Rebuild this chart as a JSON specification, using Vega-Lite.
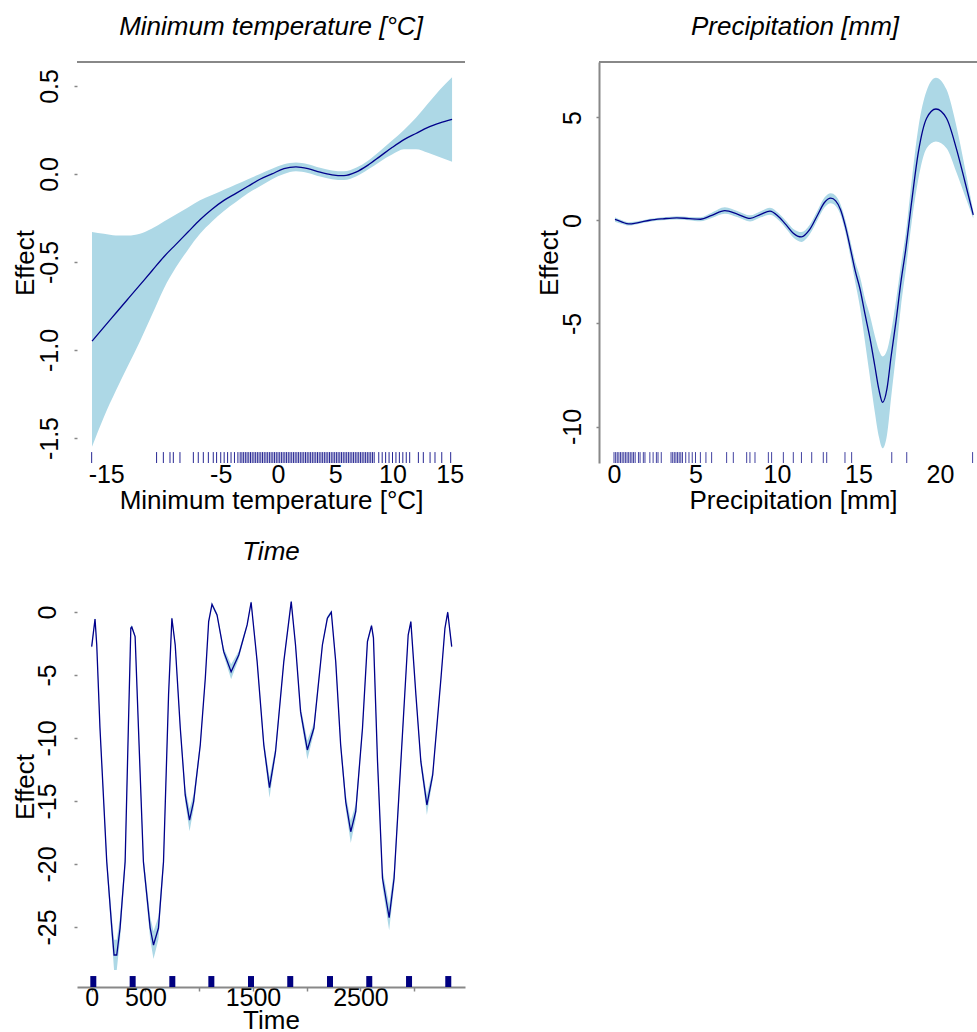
{
 "$schema": "https://vega.github.io/schema/vega-lite/v6.json",
 "background": "white",
 "padding": {"left": 12, "top": 14, "right": 0, "bottom": 0},
 "columns": 2,
 "spacing": {"row": 123, "column": 134},
 "bounds": "flush",
 "config": {
  "font": "Liberation Sans",
  "view": {"stroke": null},
  "axis": {"labelFontSize": 25, "titleFontSize": 26, "labelColor": "black", "titleColor": "black", "titleFontWeight": "normal", "grid": false, "domainColor": "#888888", "tickColor": "#888888", "labelOverlap": false, "labelFlush": false},
  "title": {"font": "Liberation Sans", "fontSize": 26, "fontStyle": "italic", "fontWeight": "normal", "color": "black", "baseline": "alphabetic", "offset": 21, "anchor": "middle"}
 },
 "datasets": {
  "temp": [
   {"x": -16.24, "fit": -0.95, "lo": -1.55, "hi": -0.33},
   {"x": -15.2, "fit": -0.87, "lo": -1.38, "hi": -0.34},
   {"x": -14.15, "fit": -0.79, "lo": -1.23, "hi": -0.35},
   {"x": -13.1, "fit": -0.71, "lo": -1.09, "hi": -0.35},
   {"x": -12.05, "fit": -0.63, "lo": -0.95, "hi": -0.34},
   {"x": -11.0, "fit": -0.55, "lo": -0.8, "hi": -0.31},
   {"x": -9.96, "fit": -0.47, "lo": -0.65, "hi": -0.27},
   {"x": -8.91, "fit": -0.4, "lo": -0.53, "hi": -0.23},
   {"x": -7.86, "fit": -0.33, "lo": -0.43, "hi": -0.19},
   {"x": -6.81, "fit": -0.26, "lo": -0.34, "hi": -0.15},
   {"x": -5.76, "fit": -0.2, "lo": -0.27, "hi": -0.12},
   {"x": -4.72, "fit": -0.15, "lo": -0.21, "hi": -0.09},
   {"x": -3.67, "fit": -0.11, "lo": -0.16, "hi": -0.06},
   {"x": -2.62, "fit": -0.07, "lo": -0.11, "hi": -0.03},
   {"x": -1.57, "fit": -0.03, "lo": -0.07, "hi": 0.0},
   {"x": -0.52, "fit": 0.0, "lo": -0.03, "hi": 0.03},
   {"x": 0.52, "fit": 0.03, "lo": 0.0, "hi": 0.055},
   {"x": 1.57, "fit": 0.04, "lo": 0.015, "hi": 0.065},
   {"x": 2.62, "fit": 0.03, "lo": 0.005, "hi": 0.055},
   {"x": 3.67, "fit": 0.01, "lo": -0.015, "hi": 0.035},
   {"x": 4.72, "fit": -0.005, "lo": -0.03, "hi": 0.02},
   {"x": 5.76, "fit": -0.01, "lo": -0.035, "hi": 0.015},
   {"x": 6.81, "fit": 0.01, "lo": -0.015, "hi": 0.035},
   {"x": 7.86, "fit": 0.05, "lo": 0.025, "hi": 0.075},
   {"x": 8.91, "fit": 0.1, "lo": 0.07, "hi": 0.13},
   {"x": 9.96, "fit": 0.15, "lo": 0.11, "hi": 0.19},
   {"x": 11.0, "fit": 0.195, "lo": 0.14, "hi": 0.25},
   {"x": 12.05, "fit": 0.23, "lo": 0.14, "hi": 0.32},
   {"x": 13.1, "fit": 0.265, "lo": 0.12, "hi": 0.4},
   {"x": 14.15, "fit": 0.29, "lo": 0.095, "hi": 0.48},
   {"x": 15.2, "fit": 0.31, "lo": 0.07, "hi": 0.55}
  ],
  "temprug": [
   {"x": -16.27}, {"x": -10.6}, {"x": -10.01}, {"x": -9.43}, {"x": -9.14}, {"x": -8.56}, {"x": -7.39}, {"x": -6.96}, {"x": -6.52}, {"x": -6.08}, {"x": -5.65}, {"x": -5.36},
   {"x": -5.0}, {"x": -4.7}, {"x": -4.4}, {"x": -4.1}, {"x": -3.8}, {"x": -3.5},
   {"x": -3.3}, {"x": -3.15}, {"x": -3.0}, {"x": -2.85}, {"x": -2.7}, {"x": -2.55}, {"x": -2.4}, {"x": -2.25}, {"x": -2.1}, {"x": -1.95}, {"x": -1.8}, {"x": -1.65}, {"x": -1.5}, {"x": -1.35}, {"x": -1.2}, {"x": -1.05}, {"x": -0.9}, {"x": -0.75}, {"x": -0.6}, {"x": -0.45}, {"x": -0.3}, {"x": -0.15}, {"x": 0.0}, {"x": 0.15}, {"x": 0.3}, {"x": 0.45}, {"x": 0.6}, {"x": 0.75}, {"x": 0.9}, {"x": 1.05}, {"x": 1.2}, {"x": 1.35}, {"x": 1.5}, {"x": 1.65}, {"x": 1.8}, {"x": 1.95}, {"x": 2.1}, {"x": 2.25}, {"x": 2.4}, {"x": 2.55}, {"x": 2.7}, {"x": 2.85}, {"x": 3.0}, {"x": 3.15}, {"x": 3.3}, {"x": 3.45}, {"x": 3.6}, {"x": 3.75}, {"x": 3.9}, {"x": 4.05}, {"x": 4.2}, {"x": 4.35}, {"x": 4.5}, {"x": 4.65}, {"x": 4.8}, {"x": 4.95}, {"x": 5.1}, {"x": 5.25}, {"x": 5.4}, {"x": 5.55}, {"x": 5.7}, {"x": 5.85}, {"x": 6.0}, {"x": 6.15}, {"x": 6.3}, {"x": 6.45}, {"x": 6.6}, {"x": 6.75}, {"x": 6.9}, {"x": 7.05}, {"x": 7.2}, {"x": 7.35}, {"x": 7.5}, {"x": 7.65}, {"x": 7.8}, {"x": 7.95}, {"x": 8.1}, {"x": 8.25}, {"x": 8.4},
   {"x": 8.8}, {"x": 9.1}, {"x": 9.4}, {"x": 9.7}, {"x": 10.0}, {"x": 10.3}, {"x": 10.6}, {"x": 10.9}, {"x": 11.2}, {"x": 11.5},
   {"x": 12.26}, {"x": 12.69}, {"x": 13.28}, {"x": 13.71}, {"x": 14.3}, {"x": 15.08}
  ],
  "prec": [
   {"x": 0.06, "fit": 0.05, "lo": -0.06, "hi": 0.16},
   {"x": 0.5, "fit": -0.08, "lo": -0.17, "hi": 0.01},
   {"x": 0.9, "fit": -0.17, "lo": -0.25, "hi": -0.09},
   {"x": 1.5, "fit": -0.1, "lo": -0.17, "hi": -0.03},
   {"x": 2.2, "fit": 0.01, "lo": -0.06, "hi": 0.08},
   {"x": 3.0, "fit": 0.08, "lo": 0.01, "hi": 0.15},
   {"x": 3.85, "fit": 0.13, "lo": 0.05, "hi": 0.21},
   {"x": 4.6, "fit": 0.09, "lo": 0.01, "hi": 0.17},
   {"x": 5.3, "fit": 0.06, "lo": -0.04, "hi": 0.16},
   {"x": 6.0, "fit": 0.25, "lo": 0.12, "hi": 0.38},
   {"x": 6.8, "fit": 0.48, "lo": 0.32, "hi": 0.64},
   {"x": 7.6, "fit": 0.3, "lo": 0.15, "hi": 0.45},
   {"x": 8.35, "fit": 0.1, "lo": -0.05, "hi": 0.25},
   {"x": 9.0, "fit": 0.3, "lo": 0.15, "hi": 0.45},
   {"x": 9.57, "fit": 0.45, "lo": 0.28, "hi": 0.62},
   {"x": 10.1, "fit": 0.18, "lo": 0.01, "hi": 0.35},
   {"x": 10.6, "fit": -0.25, "lo": -0.44, "hi": -0.06},
   {"x": 11.0, "fit": -0.62, "lo": -0.83, "hi": -0.41},
   {"x": 11.5, "fit": -0.8, "lo": -1.04, "hi": -0.56},
   {"x": 12.0, "fit": -0.45, "lo": -0.68, "hi": -0.22},
   {"x": 12.5, "fit": 0.28, "lo": 0.05, "hi": 0.51},
   {"x": 12.9, "fit": 0.86, "lo": 0.62, "hi": 1.1},
   {"x": 13.3, "fit": 1.08, "lo": 0.84, "hi": 1.32},
   {"x": 13.6, "fit": 0.95, "lo": 0.7, "hi": 1.2},
   {"x": 13.9, "fit": 0.52, "lo": 0.26, "hi": 0.78},
   {"x": 14.2, "fit": -0.3, "lo": -0.6, "hi": 0.0},
   {"x": 14.5, "fit": -1.35, "lo": -1.75, "hi": -0.98},
   {"x": 14.8, "fit": -2.45, "lo": -3.0, "hi": -2.0},
   {"x": 15.1, "fit": -3.35, "lo": -4.25, "hi": -2.75},
   {"x": 15.4, "fit": -4.55, "lo": -5.9, "hi": -3.8},
   {"x": 15.7, "fit": -5.7, "lo": -7.6, "hi": -4.6},
   {"x": 16.0, "fit": -7.05, "lo": -9.3, "hi": -5.6},
   {"x": 16.25, "fit": -8.2, "lo": -10.5, "hi": -6.3},
   {"x": 16.48, "fit": -8.83, "lo": -11.06, "hi": -6.6},
   {"x": 16.75, "fit": -8.15, "lo": -10.4, "hi": -6.3},
   {"x": 17.0, "fit": -6.6, "lo": -8.6, "hi": -5.4},
   {"x": 17.3, "fit": -4.9, "lo": -6.5, "hi": -3.9},
   {"x": 17.6, "fit": -3.0, "lo": -4.2, "hi": -2.2},
   {"x": 17.9, "fit": -1.4, "lo": -2.4, "hi": -0.6},
   {"x": 18.26, "fit": 0.9, "lo": -0.1, "hi": 1.9},
   {"x": 18.67, "fit": 3.3, "lo": 2.0, "hi": 4.5},
   {"x": 19.18, "fit": 4.96, "lo": 3.5, "hi": 6.3},
   {"x": 19.75, "fit": 5.41, "lo": 3.83, "hi": 6.93},
   {"x": 20.4, "fit": 4.96, "lo": 3.5, "hi": 6.35},
   {"x": 21.0, "fit": 3.5, "lo": 2.35, "hi": 4.6},
   {"x": 21.53, "fit": 1.88, "lo": 1.2, "hi": 2.55},
   {"x": 22.04, "fit": 0.27, "lo": 0.1, "hi": 0.45}
  ],
  "precrug": [
   {"x": 0.0}, {"x": 0.1}, {"x": 0.2}, {"x": 0.3}, {"x": 0.4}, {"x": 0.5}, {"x": 0.6}, {"x": 0.7}, {"x": 0.8}, {"x": 0.9}, {"x": 1.0}, {"x": 1.1}, {"x": 1.2}, {"x": 1.3}, {"x": 1.5}, {"x": 1.6}, {"x": 1.8}, {"x": 1.9}, {"x": 2.2}, {"x": 2.4}, {"x": 2.6}, {"x": 2.7}, {"x": 2.9},
   {"x": 3.5}, {"x": 3.6}, {"x": 3.7}, {"x": 3.8}, {"x": 3.9}, {"x": 4.0}, {"x": 4.1}, {"x": 4.2}, {"x": 4.4}, {"x": 4.6}, {"x": 4.8}, {"x": 5.0}, {"x": 5.3},
   {"x": 5.64}, {"x": 5.99}, {"x": 6.91}, {"x": 7.32}, {"x": 8.14}, {"x": 8.34}, {"x": 8.65}, {"x": 9.47}, {"x": 9.67}, {"x": 10.39}, {"x": 11.0}, {"x": 11.5}, {"x": 12.13}, {"x": 12.84}, {"x": 13.05}, {"x": 14.17}, {"x": 14.58}, {"x": 17.04}, {"x": 17.96}, {"x": 22.0}
  ],
  "time": [
   {"t": 0, "fit": -2.75, "lo": -2.95, "hi": -2.55},
   {"t": 31, "fit": -0.56, "lo": -0.71, "hi": -0.41},
   {"t": 47, "fit": -2.62, "lo": -2.82, "hi": -2.42},
   {"t": 77, "fit": -9.21, "lo": -9.51, "hi": -8.91},
   {"t": 140, "fit": -19.82, "lo": -20.32, "hi": -19.32},
   {"t": 187, "fit": -25.08, "lo": -25.98, "hi": -24.18},
   {"t": 208, "fit": -27.22, "lo": -28.42, "hi": -26.02},
   {"t": 233, "fit": -27.22, "lo": -28.42, "hi": -26.02},
   {"t": 264, "fit": -25.08, "lo": -25.98, "hi": -24.18},
   {"t": 311, "fit": -19.82, "lo": -20.32, "hi": -19.32},
   {"t": 341, "fit": -9.21, "lo": -9.51, "hi": -8.91},
   {"t": 364, "fit": -1.27, "lo": -1.42, "hi": -1.12},
   {"t": 373, "fit": -1.19, "lo": -1.34, "hi": -1.04},
   {"t": 404, "fit": -1.96, "lo": -2.11, "hi": -1.81},
   {"t": 435, "fit": -9.21, "lo": -9.51, "hi": -8.91},
   {"t": 481, "fit": -19.82, "lo": -20.32, "hi": -19.32},
   {"t": 544, "fit": -25.08, "lo": -25.98, "hi": -24.18},
   {"t": 575, "fit": -26.43, "lo": -27.53, "hi": -25.33},
   {"t": 621, "fit": -25.08, "lo": -25.98, "hi": -24.18},
   {"t": 668, "fit": -19.82, "lo": -20.32, "hi": -19.32},
   {"t": 715, "fit": -6.59, "lo": -6.79, "hi": -6.39},
   {"t": 746, "fit": -0.5, "lo": -0.65, "hi": -0.35},
   {"t": 777, "fit": -2.62, "lo": -2.82, "hi": -2.42},
   {"t": 824, "fit": -9.21, "lo": -9.51, "hi": -8.91},
   {"t": 870, "fit": -14.52, "lo": -15.12, "hi": -13.92},
   {"t": 910, "fit": -16.51, "lo": -17.41, "hi": -15.61},
   {"t": 948, "fit": -15.06, "lo": -15.66, "hi": -14.46},
   {"t": 1010, "fit": -10.56, "lo": -10.86, "hi": -10.26},
   {"t": 1057, "fit": -5.24, "lo": -5.44, "hi": -5.04},
   {"t": 1088, "fit": -0.77, "lo": -0.92, "hi": -0.62},
   {"t": 1119, "fit": 0.61, "lo": 0.46, "hi": 0.76},
   {"t": 1166, "fit": -0.24, "lo": -0.39, "hi": -0.09},
   {"t": 1228, "fit": -3.15, "lo": -3.45, "hi": -2.85},
   {"t": 1297, "fit": -4.74, "lo": -5.34, "hi": -4.14},
   {"t": 1368, "fit": -3.41, "lo": -3.71, "hi": -3.11},
   {"t": 1446, "fit": -1.03, "lo": -1.18, "hi": -0.88},
   {"t": 1483, "fit": 0.77, "lo": 0.62, "hi": 0.92},
   {"t": 1539, "fit": -3.94, "lo": -4.14, "hi": -3.74},
   {"t": 1601, "fit": -10.56, "lo": -10.96, "hi": -10.16},
   {"t": 1654, "fit": -13.94, "lo": -14.74, "hi": -13.14},
   {"t": 1710, "fit": -11.09, "lo": -11.49, "hi": -10.69},
   {"t": 1787, "fit": -3.94, "lo": -4.14, "hi": -3.74},
   {"t": 1856, "fit": 0.82, "lo": 0.67, "hi": 0.97},
   {"t": 1896, "fit": -2.62, "lo": -2.82, "hi": -2.42},
   {"t": 1943, "fit": -7.91, "lo": -8.31, "hi": -7.51},
   {"t": 2006, "fit": -10.95, "lo": -11.7, "hi": -10.2},
   {"t": 2067, "fit": -9.21, "lo": -9.61, "hi": -8.81},
   {"t": 2146, "fit": -2.62, "lo": -2.82, "hi": -2.42},
   {"t": 2192, "fit": -0.5, "lo": -0.65, "hi": -0.35},
   {"t": 2229, "fit": -0.02, "lo": -0.17, "hi": 0.13},
   {"t": 2270, "fit": -3.94, "lo": -4.14, "hi": -3.74},
   {"t": 2316, "fit": -10.56, "lo": -10.96, "hi": -10.16},
   {"t": 2363, "fit": -15.06, "lo": -15.66, "hi": -14.46},
   {"t": 2410, "fit": -17.44, "lo": -18.34, "hi": -16.54},
   {"t": 2456, "fit": -15.85, "lo": -16.45, "hi": -15.25},
   {"t": 2519, "fit": -9.23, "lo": -9.53, "hi": -8.93},
   {"t": 2565, "fit": -2.36, "lo": -2.56, "hi": -2.16},
   {"t": 2603, "fit": -1.09, "lo": -1.24, "hi": -0.94},
   {"t": 2621, "fit": -2.06, "lo": -2.26, "hi": -1.86},
   {"t": 2659, "fit": -11.88, "lo": -12.28, "hi": -11.48},
   {"t": 2705, "fit": -21.13, "lo": -21.83, "hi": -20.43},
   {"t": 2767, "fit": -24.26, "lo": -25.26, "hi": -23.26},
   {"t": 2813, "fit": -21.13, "lo": -21.83, "hi": -20.43},
   {"t": 2876, "fit": -11.88, "lo": -12.28, "hi": -11.48},
   {"t": 2944, "fit": -1.83, "lo": -1.98, "hi": -1.68},
   {"t": 2969, "fit": -0.77, "lo": -0.92, "hi": -0.62},
   {"t": 3016, "fit": -6.59, "lo": -6.79, "hi": -6.39},
   {"t": 3062, "fit": -11.88, "lo": -12.28, "hi": -11.48},
   {"t": 3118, "fit": -15.32, "lo": -16.12, "hi": -14.52},
   {"t": 3172, "fit": -12.94, "lo": -13.34, "hi": -12.54},
   {"t": 3249, "fit": -5.26, "lo": -5.46, "hi": -5.06},
   {"t": 3286, "fit": -1.29, "lo": -1.44, "hi": -1.14},
   {"t": 3312, "fit": -0.02, "lo": -0.17, "hi": 0.13},
   {"t": 3349, "fit": -2.75, "lo": -2.95, "hi": -2.55}
  ],
  "timerug": [
   {"t": 15}, {"t": 381}, {"t": 750}, {"t": 1113}, {"t": 1482}, {"t": 1847}, {"t": 2217}, {"t": 2582}, {"t": 2952}, {"t": 3317}
  ]
 },
 "concat": [
  {
   "width": 388, "height": 401,
   "title": {"text": "Minimum temperature [°C]"},
   "layer": [
    {
     "data": {"name": "temp"},
     "mark": {"type": "area", "color": "#ADD8E6", "interpolate": "monotone"},
     "encoding": {
      "x": {"field": "x", "type": "quantitative", "title": "Minimum temperature [°C]",
            "scale": {"domain": [-17.55, 16.33], "nice": false, "zero": false},
            "axis": {"values": [-15, -10, -5, 0, 5, 10, 15], "labelExpr": "datum.value == -10 ? '' : replace(datum.label, '\u2212', '-')", "ticks": false, "tickSize": 0, "domain": false, "labelPadding": 19, "labelBaseline": "alphabetic", "titleY": 45, "titleBaseline": "alphabetic"}},
      "y": {"field": "lo", "type": "quantitative", "title": "Effect",
            "scale": {"domain": [-1.642, 0.636], "nice": false, "zero": false},
            "axis": {"values": [-1.5, -1, -0.5, 0, 0.5], "format": ".1f", "labelExpr": "replace(datum.label, '\u2212', '-')", "labelAngle": -90, "labelAlign": "center", "labelBaseline": "alphabetic", "labelPadding": 17, "tickSize": 3, "tickWidth": 1.5, "domain": false, "titleAngle": -90, "titleBaseline": "alphabetic", "titleAlign": "center", "titleX": -44}},
      "y2": {"field": "hi"}
     }
    },
    {
     "data": {"name": "temp"},
     "mark": {"type": "line", "color": "#00008B", "strokeWidth": 1.3, "interpolate": "monotone"},
     "encoding": {
      "x": {"field": "x", "type": "quantitative", "title": "Minimum temperature [°C]"},
      "y": {"field": "fit", "type": "quantitative", "title": "Effect"}
     }
    },
    {
     "data": {"name": "temprug"},
     "mark": {"type": "rule", "color": "#000080", "strokeWidth": 1, "opacity": 0.85},
     "encoding": {
      "x": {"field": "x", "type": "quantitative", "title": "Minimum temperature [°C]"},
      "y": {"datum": -1.642, "type": "quantitative", "title": "Effect"},
      "y2": {"datum": -1.58}
     }
    },
    {
     "data": {"values": [{}]},
     "mark": {"type": "rule", "color": "#888888", "strokeWidth": 2},
     "encoding": {
      "y": {"datum": 0.636, "type": "quantitative", "title": "Effect"}
     }
    }
   ]
  },
  {
   "width": 378, "height": 401,
   "title": {"text": "Precipitation [mm]", "dx": 7},
   "layer": [
    {
     "data": {"name": "prec"},
     "mark": {"type": "area", "color": "#ADD8E6", "interpolate": "monotone"},
     "encoding": {
      "x": {"field": "x", "type": "quantitative", "title": "Precipitation [mm]",
            "scale": {"domain": [-0.92, 22.27], "nice": false, "zero": false},
            "axis": {"values": [0, 5, 10, 15, 20], "ticks": false, "tickSize": 0, "domain": false, "labelPadding": 19, "labelBaseline": "alphabetic", "titleX": 194, "titleY": 45, "titleBaseline": "alphabetic"}},
      "y": {"field": "lo", "type": "quantitative", "title": "Effect",
            "scale": {"domain": [-11.77, 7.69], "nice": false, "zero": false},
            "axis": {"values": [-10, -5, 0, 5], "format": "d", "labelExpr": "replace(datum.label, '\u2212', '-')", "labelAngle": -90, "labelAlign": "center", "labelBaseline": "alphabetic", "labelPadding": 16, "tickSize": 3, "tickWidth": 1.5, "domain": true, "domainWidth": 2, "titleAngle": -90, "titleBaseline": "alphabetic", "titleAlign": "center", "titleX": -42}},
      "y2": {"field": "hi"}
     }
    },
    {
     "data": {"name": "prec"},
     "mark": {"type": "line", "color": "#00008B", "strokeWidth": 1.3, "interpolate": "monotone"},
     "encoding": {
      "x": {"field": "x", "type": "quantitative", "title": "Precipitation [mm]"},
      "y": {"field": "fit", "type": "quantitative", "title": "Effect"}
     }
    },
    {
     "data": {"name": "precrug"},
     "mark": {"type": "rule", "color": "#000080", "strokeWidth": 1, "opacity": 0.75},
     "encoding": {
      "x": {"field": "x", "type": "quantitative", "title": "Precipitation [mm]"},
      "y": {"datum": -11.77, "type": "quantitative", "title": "Effect"},
      "y2": {"datum": -11.24}
     }
    },
    {
     "data": {"values": [{}]},
     "mark": {"type": "rule", "color": "#888888", "strokeWidth": 2},
     "encoding": {
      "y": {"datum": 7.69, "type": "quantitative", "title": "Effect"}
     }
    }
   ]
  },
  {
   "width": 388, "height": 401,
   "title": {"text": "Time"},
   "layer": [
    {
     "data": {"name": "time"},
     "mark": {"type": "area", "color": "#ADD8E6"},
     "encoding": {
      "x": {"field": "t", "type": "quantitative", "title": "Time",
            "scale": {"domain": [-136.7, 3472.6], "nice": false, "zero": false},
            "axis": {"values": [0, 500, 1000, 1500, 2000, 2500, 3000], "format": "d", "labelExpr": "indexof([0, 500, 1500, 2500], datum.value) >= 0 ? datum.label : ''", "ticks": true, "tickSize": 4, "tickWidth": 1.5, "domain": true, "domainWidth": 2, "labelPadding": 14, "labelBaseline": "alphabetic", "titleY": 41, "titleBaseline": "alphabetic"}},
      "y": {"field": "lo", "type": "quantitative", "title": "Effect",
            "scale": {"domain": [-29.76, 2.06], "nice": false, "zero": false},
            "axis": {"values": [-25, -20, -15, -10, -5, 0], "format": "d", "labelExpr": "replace(datum.label, '\u2212', '-')", "labelAngle": -90, "labelAlign": "center", "labelBaseline": "alphabetic", "labelPadding": 19, "tickSize": 3, "tickWidth": 1.5, "domain": false, "titleAngle": -90, "titleBaseline": "alphabetic", "titleAlign": "center", "titleX": -44}},
      "y2": {"field": "hi"}
     }
    },
    {
     "data": {"name": "time"},
     "mark": {"type": "line", "color": "#00008B", "strokeWidth": 1.3},
     "encoding": {
      "x": {"field": "t", "type": "quantitative", "title": "Time"},
      "y": {"field": "fit", "type": "quantitative", "title": "Effect"}
     }
    },
    {
     "data": {"name": "timerug"},
     "mark": {"type": "rule", "color": "#000080", "strokeWidth": 6},
     "encoding": {
      "x": {"field": "t", "type": "quantitative", "title": "Time"},
      "y": {"datum": -29.76, "type": "quantitative", "title": "Effect"},
      "y2": {"datum": -28.89}
     }
    }
   ]
  }
 ]
}
